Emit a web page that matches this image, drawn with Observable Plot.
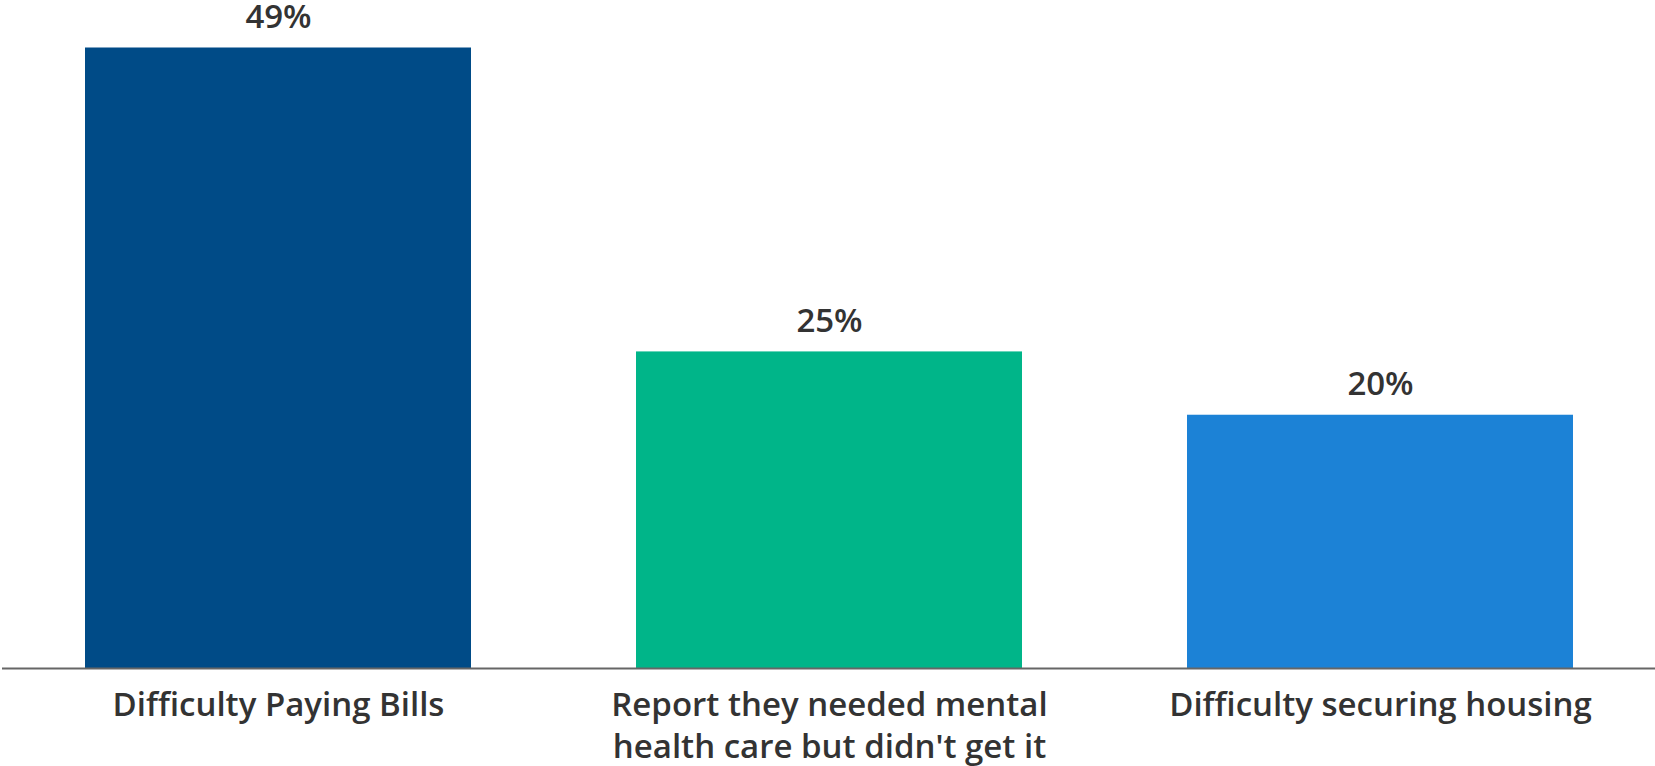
<!DOCTYPE html>
<html>
<head>
<meta charset="utf-8">
<script src="https://cdn.jsdelivr.net/npm/d3@7"></script>
<script src="https://cdn.jsdelivr.net/npm/@observablehq/plot@0.6"></script>
<style>
  html, body { margin: 0; padding: 0; background: #ffffff; }
  #chart svg { display: block; }
</style>
</head>
<body>
<div id="chart"></div>
<script>
const categories = [
  "Difficulty Paying Bills",
  "Report they needed mental\nhealth care but didn't get it",
  "Difficulty securing housing"
];
const values = [49, 25, 20];
const barColors = ["#004B87", "#00B589", "#1C82D6"];

const data = categories.map((c, i) => ({category: c, value: values[i], color: barColors[i]}));

const chart = Plot.plot({
  width: 1655,
  height: 766,
  marginLeft: 2,
  marginRight: 0,
  marginTop: 47.5,
  marginBottom: 98,
  style: {fontFamily: "'Open Sans', Lato, sans-serif", background: "#ffffff"},
  x: {domain: categories, paddingInner: 0.3, paddingOuter: 0.15, label: null},
  y: {domain: [0, 49], axis: null},
  marks: [
    Plot.barY(data, {x: "category", y: "value", fill: "color"}),
    Plot.ruleY([0], {stroke: "#666666", strokeWidth: 2}),
    Plot.text(data, {
      x: "category", y: "value",
      text: d => d.value + "%",
      lineAnchor: "bottom", dy: -20,
      fontSize: 33, fontWeight: 600, fill: "#333333"
    }),
    Plot.axisX({
      tickSize: 0, tickPadding: 18, fontSize: 33, fontWeight: 600,
      fill: "#333333", lineHeight: 1.27, lineAnchor: "top", label: null
    })
  ]
});
document.getElementById("chart").appendChild(chart);
</script>
</body>
</html>
